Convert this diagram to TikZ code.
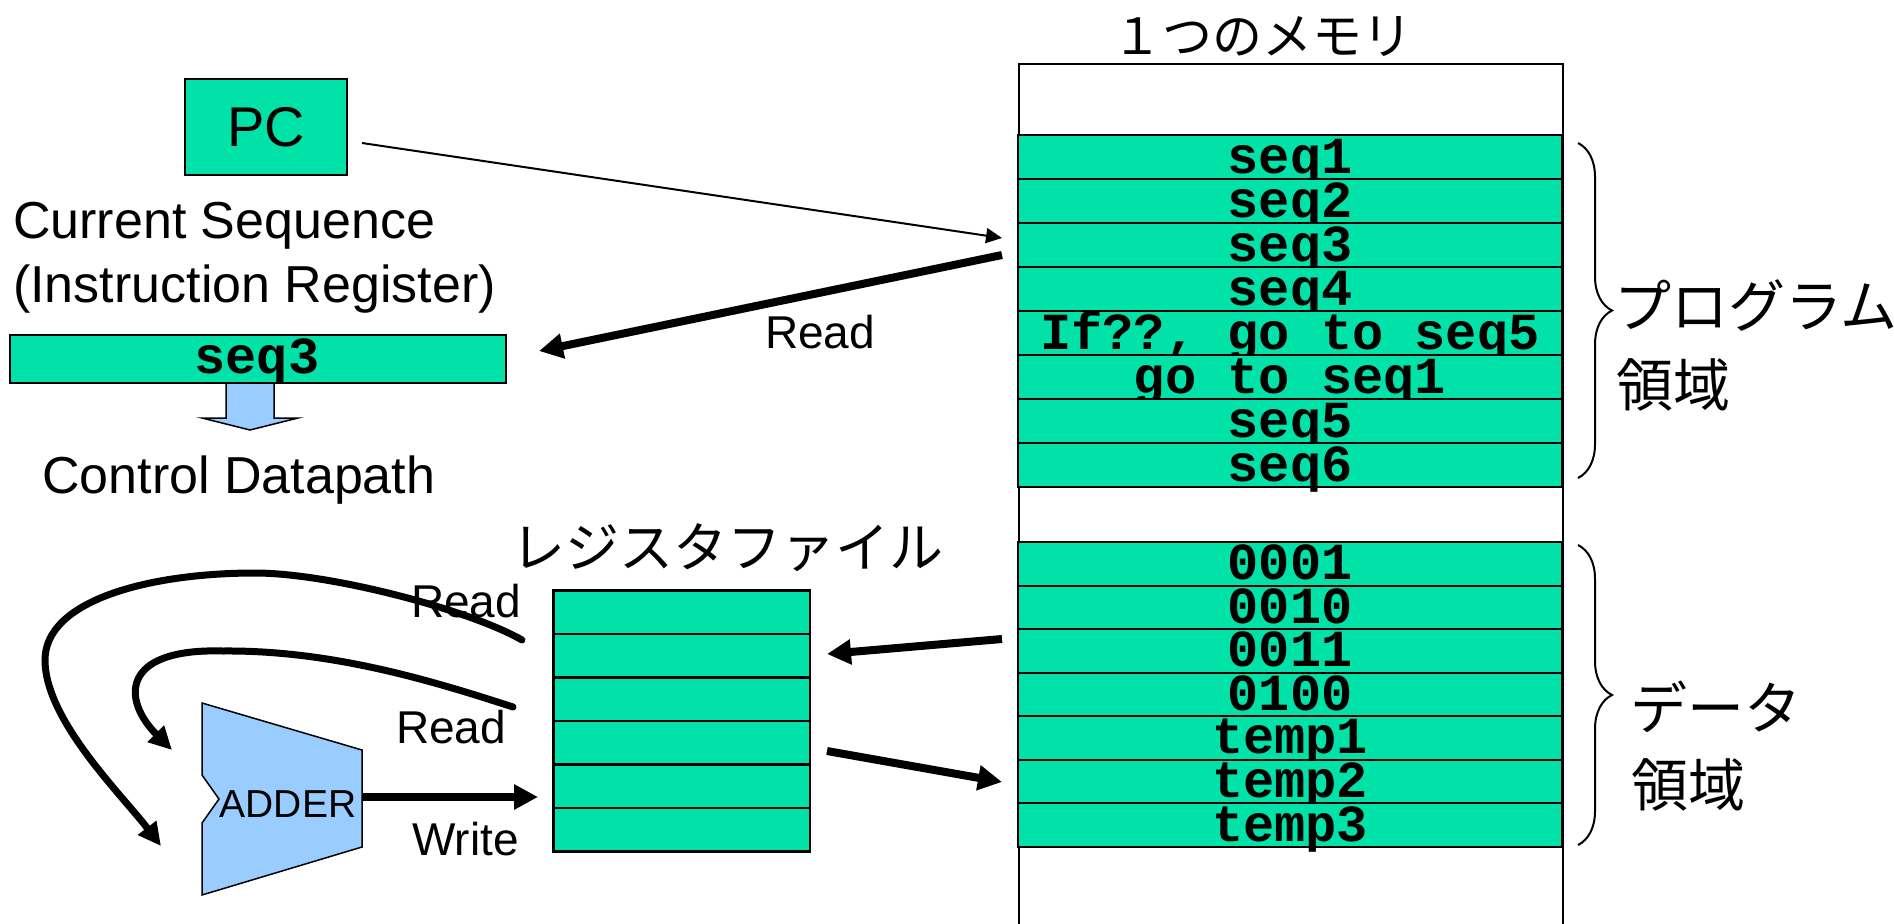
\documentclass[tikz,border=0pt]{standalone}
\usepackage{fontspec}
\setmainfont{Liberation Sans}
\newfontfamily\jpfont{Noto Sans CJK JP}
\newfontfamily\monofont{Liberation Mono}
\usetikzlibrary{arrows.meta,decorations.pathreplacing,calc}
\definecolor{memgreen}{RGB}{0,226,168}
\definecolor{addblue}{RGB}{153,204,255}
\begin{document}
\begin{tikzpicture}[x=1pt,y=-1pt,
  memrow/.style={draw=black, line width=2pt, fill=memgreen, minimum width=544pt, minimum height=44pt, inner sep=0pt},
  datarow/.style={draw=black, line width=2pt, fill=memgreen, minimum width=544pt, minimum height=43.57pt, inner sep=0pt},
  regrow/.style={draw=black, line width=2.5pt, fill=memgreen, minimum width=256.4pt, minimum height=43.5pt, inner sep=0pt},
  rowtext/.style={inner sep=0pt, font=\monofont\bfseries\fontsize{52}{56}\selectfont},
  lbl/.style={inner sep=0pt, font=\fontsize{52}{60}\selectfont},
  rwlbl/.style={inner sep=0pt, anchor=base west, font=\fontsize{46}{50}\selectfont},
  jplbl/.style={inner sep=0pt, font=\jpfont\fontsize{57}{60}\selectfont},
  thickarrow/.style={line width=8pt, -{Triangle[length=24pt,width=24pt]}},
  curvearrow/.style={line width=7pt, line cap=round, -{Triangle[length=23pt,width=22pt]}},
  bracestyle/.style={line width=2pt, decorate, decoration={brace, amplitude=34pt}}]
\useasboundingbox (0,0) rectangle (1894,923);
\clip (0,0) rectangle (1894,923);
\fill[white] (0,0) rectangle (1894,923);

% ---------------- memory ----------------
\node[draw=black, line width=2pt, fill=white, minimum width=544pt, minimum height=900pt, inner sep=0pt, anchor=north west] (mem) at (1018,63) {};
\node[inner sep=0pt, font=\jpfont\fontsize{50}{56}\selectfont] (memtitle) at (1262,37) {１つのメモリ};

\foreach \txt [count=\i] in {seq1,seq2,seq3,seq4,{If??, go to seq5},{go to seq1},seq5,seq6}{
  \node[memrow] (m\i) at (1290, 113+44*\i) {};
  \node[rowtext, anchor=base] (mt\i) at (1290, 129+44*\i) {\txt};
}
\foreach \txt [count=\i] in {0001,0010,0011,0100,temp1,temp2,temp3}{
  \node[datarow] (d\i) at (1290, 520.215+43.57*\i) {};
  \node[rowtext, anchor=base] (dt\i) at (1290, 536+43.57*\i) {\txt};
}

% braces
\coordinate (pbA) at (1578,143);
\coordinate (pbB) at (1578,478);
\draw[bracestyle] (pbA) -- (pbB);
\coordinate (dbA) at (1578,545);
\coordinate (dbB) at (1578,845);
\draw[bracestyle] (dbA) -- (dbB);

\node[jplbl, anchor=west] (prog1) at (1614,306) {プログラム};
\node[jplbl, anchor=west] (prog2) at (1616,385) {領域};
\node[jplbl, anchor=west] (data1) at (1630,707) {データ};
\node[jplbl, anchor=west] (data2) at (1631,785) {領域};

% ---------------- PC and IR ----------------
\node[draw=black, line width=2pt, fill=memgreen, minimum width=162pt, minimum height=96pt, inner sep=0pt, font=\fontsize{56}{60}\selectfont] (pc) at (266,127) {PC};
\node[lbl, anchor=base west] (cs1) at (13,238) {Current Sequence};
\node[lbl, anchor=base west] (cs2) at (13,302) {(Instruction Register)};

\draw[fill=addblue, line width=1.5pt] (226,380) -- (274,380) -- (274,418) -- (298,418) -- (250,430) -- (202,418) -- (226,418) -- cycle;
\node[draw=black, line width=2pt, fill=memgreen, minimum width=496pt, minimum height=48pt, inner sep=0pt] (ir) at (258,359) {};
\node[rowtext, anchor=base] (irt) at (257,373) {seq3};
\node[lbl, anchor=base west] (cd) at (42,493) {Control Datapath};

% ---------------- register file ----------------
\node[inner sep=0pt, font=\jpfont\fontsize{54}{58}\selectfont] (rftitle) at (727,548) {レジスタファイル};
\foreach \i in {1,...,6}{
  \node[regrow] (r\i) at (681.8, 568.95+43.5*\i) {};
}

% ---------------- adder ----------------
\draw[fill=addblue, line width=1.5pt] (202,703) -- (362,750) -- (362,847) -- (202,895) -- (202,823) -- (219,799) -- (202,775) -- cycle;
\node[inner sep=0pt, font=\fontsize{39}{44}\selectfont] (adder) at (288,804) {ADDER};

% ---------------- connectors ----------------
\coordinate (pcA) at (362,143);
\coordinate (pcB) at (1002,238);
\draw[line width=2pt, -{Triangle[length=16pt,width=15pt]}] (pcA) -- (pcB);

\coordinate (rdA) at (1002,255);
\coordinate (rdB) at (539,351);
\draw[thickarrow] (rdA) -- (rdB);
\node[rwlbl] (read0) at (765,348) {Read};

\coordinate (dA) at (1002,639);
\coordinate (dB) at (827,654);
\draw[thickarrow] (dA) -- (dB);
\coordinate (eA) at (827,751);
\coordinate (eB) at (1002,782);
\draw[thickarrow] (eA) -- (eB);

\coordinate (wA) at (362,797);
\coordinate (wB) at (538,797);
\draw[thickarrow] (wA) -- (wB);

\node[rwlbl] (read1) at (411,617) {Read};
\node[rwlbl] (read2) at (396,743) {Read};
\node[rwlbl] (write) at (412,855) {Write};

\coordinate (o1) at (522,640);
\coordinate (o2) at (161,846);
\draw[curvearrow] (o1) .. controls (470,610) and (330,573) .. (255,573)
                       .. controls (150,573) and (45,600) .. (45,660)
                       .. controls (45,720) and (122,795) .. (o2);
\coordinate (i1) at (513,707);
\coordinate (i2) at (172,750);
\draw[curvearrow] (i1) .. controls (430,680) and (330,650) .. (223,651)
                       .. controls (120,648) and (122,700) .. (i2);
\end{tikzpicture}
\end{document}
